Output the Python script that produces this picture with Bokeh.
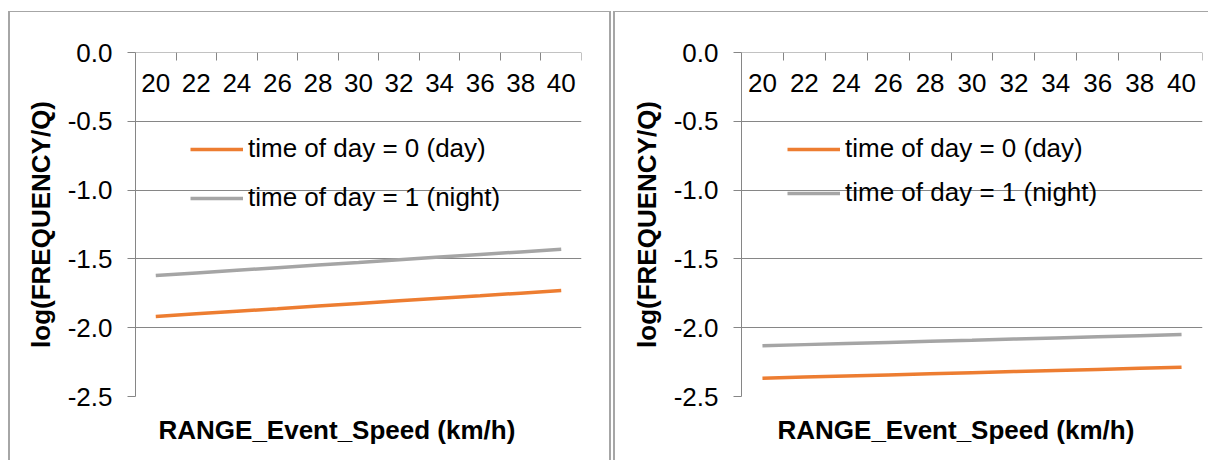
from bokeh.plotting import figure
from bokeh.layouts import row
from bokeh.models import (Range1d, FixedTicker, PrintfTickFormatter, Legend,
                          LegendItem, Title, LinearAxis)
from bokeh.embed import file_html
from bokeh.resources import INLINE

# ---- data ----
speeds = [20, 22, 24, 26, 28, 30, 32, 34, 36, 38, 40]
speed_bounds = [19, 21, 23, 25, 27, 29, 31, 33, 35, 37, 39, 41]
y_ticks = [0.0, -0.5, -1.0, -1.5, -2.0, -2.5]

day_left = [-1.918, -1.899, -1.880, -1.862, -1.843, -1.824, -1.805, -1.786, -1.768, -1.749, -1.730]
night_left = [-1.621, -1.602, -1.583, -1.564, -1.545, -1.526, -1.506, -1.487, -1.468, -1.449, -1.430]
day_right = [-2.367, -2.359, -2.351, -2.343, -2.335, -2.327, -2.319, -2.311, -2.303, -2.295, -2.287]
night_right = [-2.131, -2.123, -2.115, -2.107, -2.099, -2.091, -2.082, -2.074, -2.066, -2.058, -2.050]

series_labels = ["time of day = 0 (day)", "time of day = 1 (night)"]
x_title = "RANGE_Event_Speed (km/h)"
y_title = "log(FREQUENCY/Q)"

ORANGE = "#ED7D31"
GRAY = "#A5A5A5"
AXIS = "#868686"
FONT = "Liberation Sans"


def make_panel(day, night, width, mbl, mbr, margin, leg_loc, leg_spacing,
               title_offset, shadow):
    p = figure(width=width, height=449, output_backend="svg", toolbar_location=None,
               x_range=Range1d(19, 41), y_range=Range1d(-2.5, 0.0),
               min_border_left=mbl, min_border_right=mbr,
               min_border_top=41, min_border_bottom=63,
               x_axis_location=None, y_axis_location=None)
    p.margin = margin
    p.styles = {"box-shadow": shadow}
    p.border_fill_color = None
    p.background_fill_color = "white"
    p.outline_line_color = None
    p.xgrid.visible = False
    p.ygrid.grid_line_color = AXIS
    p.ygrid.grid_line_width = 1
    p.ygrid.ticker = FixedTicker(ticks=y_ticks)

    # category boundary tick marks along y = 0
    xb = LinearAxis(fixed_location=0.0, ticker=FixedTicker(ticks=speed_bounds))
    xb.axis_line_color = AXIS
    xb.major_tick_line_color = AXIS
    xb.major_tick_in = 0
    xb.major_tick_out = 8
    xb.minor_tick_line_color = None
    xb.major_label_text_color = None
    xb.major_label_text_font_size = "1px"
    p.add_layout(xb, "below")

    # category labels just under the y = 0 axis line (inside the plot area)
    xa = LinearAxis(fixed_location=0.0, ticker=FixedTicker(ticks=speeds))
    xa.axis_line_color = None
    xa.major_tick_line_color = None
    xa.major_tick_in = 0
    xa.major_tick_out = 0
    xa.minor_tick_line_color = None
    xa.major_label_standoff = 21
    xa.major_label_text_font = FONT
    xa.major_label_text_font_size = "26px"
    xa.major_label_text_color = "black"
    p.add_layout(xa, "below")

    ya = LinearAxis(ticker=FixedTicker(ticks=y_ticks),
                    formatter=PrintfTickFormatter(format="%.1f"))
    ya.axis_line_color = AXIS
    ya.major_tick_line_color = AXIS
    ya.major_tick_in = 0
    ya.major_tick_out = 8
    ya.minor_tick_line_color = None
    ya.major_label_standoff = 15
    ya.major_label_text_font = FONT
    ya.major_label_text_font_size = "26px"
    ya.major_label_text_color = "black"
    ya.axis_label = y_title
    ya.axis_label_text_font = FONT
    ya.axis_label_text_font_size = "26px"
    ya.axis_label_text_font_style = "bold"
    ya.axis_label_text_color = "black"
    ya.axis_label_standoff = 9
    p.add_layout(ya, "left")

    r_day = p.line(speeds, day, line_color=ORANGE, line_width=3.5)
    r_night = p.line(speeds, night, line_color=GRAY, line_width=3.5)

    legend = Legend(items=[LegendItem(label=series_labels[0], renderers=[r_day]),
                           LegendItem(label=series_labels[1], renderers=[r_night])],
                    location=leg_loc, spacing=leg_spacing, padding=0, margin=0,
                    glyph_width=53, glyph_height=30, label_height=30,
                    label_standoff=5, border_line_color=None,
                    background_fill_color=None,
                    label_text_font=FONT, label_text_font_size="26px",
                    label_text_color="black")
    p.add_layout(legend, "center")

    t = Title(text=x_title, align="left", offset=title_offset,
              text_font=FONT, text_font_size="26px", text_font_style="bold",
              text_color="black", standoff=32)
    p.add_layout(t, "below")
    return p


p1 = make_panel(day_left, night_left, 603, 127, 30, (11, 0, 0, 8), (55, 183), 18, 23,
                "inset 2px 1px 0 0 #a6a6a6, inset -2px 0 0 0 #a6a6a6")
p2 = make_panel(day_right, night_right, 595, 128, 6, (11, 0, 0, 2), (46, 188), 13, 36,
                "inset 2px 1px 0 0 #a6a6a6")

layout = row(p1, p2, spacing=0)
open("out.html", "w").write(file_html(layout, INLINE))
